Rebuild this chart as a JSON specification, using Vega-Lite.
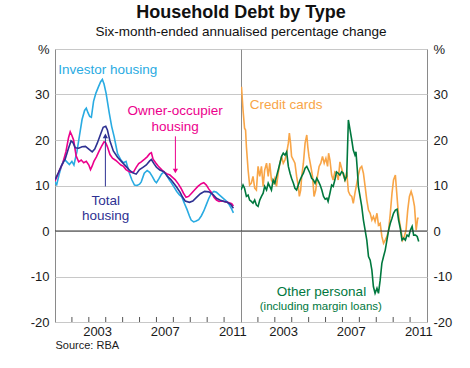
{
"$schema": "https://vega.github.io/schema/vega-lite/v6.json",
"padding": {"left": 29, "top": 4, "right": 5, "bottom": 5},
"bounds": "flush",
"config": {"font": "Liberation Sans", "view": {"stroke": "#8a8a8a", "strokeWidth": 1}, "axis": {"labelFont": "Liberation Sans", "labelColor": "#1a1a1a", "labelFontSize": 13, "titleFont": "Liberation Sans"}},
"title": {"text": "Household Debt by Type", "subtitle": "Six-month-ended annualised percentage change", "fontSize": 18, "fontWeight": "bold", "color": "#111111", "subtitleFontSize": 13.5, "subtitleColor": "#111111", "subtitleFont": "Liberation Sans", "subtitlePadding": 3, "anchor": "middle", "offset": 4},
"datasets": {
"housing": [
{"s":"Investor housing","t":2001.0,"v":10.7},{"s":"Investor housing","t":2001.1,"v":10.2},{"s":"Investor housing","t":2001.25,"v":12.5},{"s":"Investor housing","t":2001.4,"v":14.5},{"s":"Investor housing","t":2001.55,"v":15.8},{"s":"Investor housing","t":2001.7,"v":15.2},{"s":"Investor housing","t":2001.85,"v":14.6},{"s":"Investor housing","t":2002.0,"v":15.3},{"s":"Investor housing","t":2002.12,"v":14.5},{"s":"Investor housing","t":2002.3,"v":17.5},{"s":"Investor housing","t":2002.45,"v":21.0},{"s":"Investor housing","t":2002.6,"v":24.5},{"s":"Investor housing","t":2002.75,"v":26.5},{"s":"Investor housing","t":2002.85,"v":27.0},{"s":"Investor housing","t":2002.95,"v":26.0},{"s":"Investor housing","t":2003.05,"v":25.2},{"s":"Investor housing","t":2003.15,"v":25.0},{"s":"Investor housing","t":2003.28,"v":28.5},{"s":"Investor housing","t":2003.42,"v":30.3},{"s":"Investor housing","t":2003.55,"v":31.5},{"s":"Investor housing","t":2003.7,"v":32.8},{"s":"Investor housing","t":2003.8,"v":33.3},{"s":"Investor housing","t":2003.9,"v":32.3},{"s":"Investor housing","t":2004.02,"v":30.3},{"s":"Investor housing","t":2004.12,"v":28.0},{"s":"Investor housing","t":2004.21,"v":25.9},{"s":"Investor housing","t":2004.35,"v":23.0},{"s":"Investor housing","t":2004.5,"v":20.7},{"s":"Investor housing","t":2004.7,"v":17.0},{"s":"Investor housing","t":2004.9,"v":15.6},{"s":"Investor housing","t":2005.05,"v":15.0},{"s":"Investor housing","t":2005.2,"v":15.3},{"s":"Investor housing","t":2005.3,"v":14.0},{"s":"Investor housing","t":2005.4,"v":12.7},{"s":"Investor housing","t":2005.55,"v":11.2},{"s":"Investor housing","t":2005.7,"v":10.1},{"s":"Investor housing","t":2005.85,"v":10.0},{"s":"Investor housing","t":2006.0,"v":10.3},{"s":"Investor housing","t":2006.1,"v":10.8},{"s":"Investor housing","t":2006.28,"v":12.7},{"s":"Investor housing","t":2006.45,"v":13.3},{"s":"Investor housing","t":2006.6,"v":12.9},{"s":"Investor housing","t":2006.75,"v":12.0},{"s":"Investor housing","t":2006.9,"v":11.0},{"s":"Investor housing","t":2007.0,"v":10.6},{"s":"Investor housing","t":2007.15,"v":11.5},{"s":"Investor housing","t":2007.3,"v":12.5},{"s":"Investor housing","t":2007.45,"v":13.0},{"s":"Investor housing","t":2007.6,"v":12.3},{"s":"Investor housing","t":2007.75,"v":11.3},{"s":"Investor housing","t":2007.9,"v":10.5},{"s":"Investor housing","t":2008.05,"v":9.6},{"s":"Investor housing","t":2008.2,"v":8.7},{"s":"Investor housing","t":2008.35,"v":8.0},{"s":"Investor housing","t":2008.5,"v":7.5},{"s":"Investor housing","t":2008.65,"v":6.1},{"s":"Investor housing","t":2008.8,"v":4.8},{"s":"Investor housing","t":2008.95,"v":3.3},{"s":"Investor housing","t":2009.05,"v":2.4},{"s":"Investor housing","t":2009.2,"v":2.0},{"s":"Investor housing","t":2009.35,"v":2.2},{"s":"Investor housing","t":2009.5,"v":2.5},{"s":"Investor housing","t":2009.65,"v":3.3},{"s":"Investor housing","t":2009.8,"v":4.4},{"s":"Investor housing","t":2009.95,"v":5.8},{"s":"Investor housing","t":2010.1,"v":7.2},{"s":"Investor housing","t":2010.25,"v":8.3},{"s":"Investor housing","t":2010.4,"v":8.7},{"s":"Investor housing","t":2010.55,"v":8.5},{"s":"Investor housing","t":2010.7,"v":8.0},{"s":"Investor housing","t":2010.85,"v":7.5},{"s":"Investor housing","t":2011.0,"v":7.0},{"s":"Investor housing","t":2011.15,"v":6.5},{"s":"Investor housing","t":2011.3,"v":5.8},{"s":"Investor housing","t":2011.45,"v":4.8},{"s":"Investor housing","t":2011.55,"v":4.0},
{"s":"Owner-occupier housing","t":2001.0,"v":11.0},{"s":"Owner-occupier housing","t":2001.1,"v":11.8},{"s":"Owner-occupier housing","t":2001.25,"v":13.2},{"s":"Owner-occupier housing","t":2001.45,"v":14.8},{"s":"Owner-occupier housing","t":2001.65,"v":17.5},{"s":"Owner-occupier housing","t":2001.8,"v":20.5},{"s":"Owner-occupier housing","t":2001.9,"v":21.8},{"s":"Owner-occupier housing","t":2002.0,"v":21.0},{"s":"Owner-occupier housing","t":2002.1,"v":20.0},{"s":"Owner-occupier housing","t":2002.25,"v":16.5},{"s":"Owner-occupier housing","t":2002.4,"v":15.2},{"s":"Owner-occupier housing","t":2002.55,"v":15.6},{"s":"Owner-occupier housing","t":2002.7,"v":15.0},{"s":"Owner-occupier housing","t":2002.85,"v":15.3},{"s":"Owner-occupier housing","t":2003.0,"v":14.5},{"s":"Owner-occupier housing","t":2003.1,"v":13.5},{"s":"Owner-occupier housing","t":2003.2,"v":14.3},{"s":"Owner-occupier housing","t":2003.3,"v":15.3},{"s":"Owner-occupier housing","t":2003.45,"v":16.3},{"s":"Owner-occupier housing","t":2003.6,"v":17.5},{"s":"Owner-occupier housing","t":2003.75,"v":18.6},{"s":"Owner-occupier housing","t":2003.9,"v":19.6},{"s":"Owner-occupier housing","t":2004.0,"v":19.4},{"s":"Owner-occupier housing","t":2004.1,"v":18.5},{"s":"Owner-occupier housing","t":2004.25,"v":16.8},{"s":"Owner-occupier housing","t":2004.4,"v":16.0},{"s":"Owner-occupier housing","t":2004.6,"v":15.5},{"s":"Owner-occupier housing","t":2004.75,"v":15.0},{"s":"Owner-occupier housing","t":2004.9,"v":14.5},{"s":"Owner-occupier housing","t":2005.05,"v":14.2},{"s":"Owner-occupier housing","t":2005.2,"v":13.5},{"s":"Owner-occupier housing","t":2005.35,"v":13.1},{"s":"Owner-occupier housing","t":2005.5,"v":12.9},{"s":"Owner-occupier housing","t":2005.65,"v":13.0},{"s":"Owner-occupier housing","t":2005.8,"v":14.0},{"s":"Owner-occupier housing","t":2005.95,"v":14.8},{"s":"Owner-occupier housing","t":2006.1,"v":15.2},{"s":"Owner-occupier housing","t":2006.3,"v":15.8},{"s":"Owner-occupier housing","t":2006.45,"v":16.3},{"s":"Owner-occupier housing","t":2006.6,"v":17.0},{"s":"Owner-occupier housing","t":2006.7,"v":17.2},{"s":"Owner-occupier housing","t":2006.8,"v":15.8},{"s":"Owner-occupier housing","t":2006.95,"v":15.0},{"s":"Owner-occupier housing","t":2007.1,"v":14.3},{"s":"Owner-occupier housing","t":2007.3,"v":13.5},{"s":"Owner-occupier housing","t":2007.45,"v":13.0},{"s":"Owner-occupier housing","t":2007.6,"v":12.6},{"s":"Owner-occupier housing","t":2007.8,"v":12.3},{"s":"Owner-occupier housing","t":2007.95,"v":11.8},{"s":"Owner-occupier housing","t":2008.1,"v":11.3},{"s":"Owner-occupier housing","t":2008.3,"v":10.3},{"s":"Owner-occupier housing","t":2008.45,"v":9.4},{"s":"Owner-occupier housing","t":2008.6,"v":8.3},{"s":"Owner-occupier housing","t":2008.75,"v":7.4},{"s":"Owner-occupier housing","t":2008.9,"v":7.6},{"s":"Owner-occupier housing","t":2009.05,"v":8.2},{"s":"Owner-occupier housing","t":2009.25,"v":9.0},{"s":"Owner-occupier housing","t":2009.45,"v":9.8},{"s":"Owner-occupier housing","t":2009.65,"v":10.4},{"s":"Owner-occupier housing","t":2009.8,"v":10.6},{"s":"Owner-occupier housing","t":2009.95,"v":10.1},{"s":"Owner-occupier housing","t":2010.1,"v":9.2},{"s":"Owner-occupier housing","t":2010.25,"v":8.5},{"s":"Owner-occupier housing","t":2010.4,"v":7.4},{"s":"Owner-occupier housing","t":2010.55,"v":6.8},{"s":"Owner-occupier housing","t":2010.7,"v":6.5},{"s":"Owner-occupier housing","t":2010.9,"v":6.6},{"s":"Owner-occupier housing","t":2011.1,"v":6.4},{"s":"Owner-occupier housing","t":2011.3,"v":6.2},{"s":"Owner-occupier housing","t":2011.45,"v":6.0},{"s":"Owner-occupier housing","t":2011.55,"v":5.5},
{"s":"Total housing","t":2001.0,"v":11.3},{"s":"Total housing","t":2001.2,"v":12.8},{"s":"Total housing","t":2001.4,"v":14.5},{"s":"Total housing","t":2001.6,"v":15.8},{"s":"Total housing","t":2001.8,"v":18.2},{"s":"Total housing","t":2001.95,"v":19.8},{"s":"Total housing","t":2002.05,"v":19.5},{"s":"Total housing","t":2002.2,"v":18.3},{"s":"Total housing","t":2002.4,"v":18.2},{"s":"Total housing","t":2002.6,"v":18.5},{"s":"Total housing","t":2002.8,"v":18.6},{"s":"Total housing","t":2003.0,"v":18.0},{"s":"Total housing","t":2003.2,"v":17.4},{"s":"Total housing","t":2003.35,"v":18.0},{"s":"Total housing","t":2003.5,"v":19.3},{"s":"Total housing","t":2003.7,"v":21.3},{"s":"Total housing","t":2003.85,"v":22.8},{"s":"Total housing","t":2004.0,"v":23.0},{"s":"Total housing","t":2004.1,"v":22.2},{"s":"Total housing","t":2004.25,"v":19.8},{"s":"Total housing","t":2004.45,"v":17.6},{"s":"Total housing","t":2004.7,"v":16.2},{"s":"Total housing","t":2004.95,"v":15.2},{"s":"Total housing","t":2005.2,"v":14.2},{"s":"Total housing","t":2005.4,"v":13.4},{"s":"Total housing","t":2005.6,"v":12.8},{"s":"Total housing","t":2005.8,"v":12.5},{"s":"Total housing","t":2006.0,"v":13.5},{"s":"Total housing","t":2006.2,"v":14.0},{"s":"Total housing","t":2006.4,"v":14.5},{"s":"Total housing","t":2006.6,"v":15.4},{"s":"Total housing","t":2006.7,"v":15.7},{"s":"Total housing","t":2006.85,"v":14.8},{"s":"Total housing","t":2007.0,"v":14.0},{"s":"Total housing","t":2007.2,"v":13.4},{"s":"Total housing","t":2007.45,"v":13.0},{"s":"Total housing","t":2007.65,"v":12.0},{"s":"Total housing","t":2007.85,"v":11.3},{"s":"Total housing","t":2008.0,"v":10.6},{"s":"Total housing","t":2008.2,"v":9.6},{"s":"Total housing","t":2008.4,"v":8.5},{"s":"Total housing","t":2008.55,"v":7.4},{"s":"Total housing","t":2008.7,"v":6.6},{"s":"Total housing","t":2008.95,"v":6.3},{"s":"Total housing","t":2009.15,"v":6.6},{"s":"Total housing","t":2009.4,"v":7.5},{"s":"Total housing","t":2009.6,"v":8.2},{"s":"Total housing","t":2009.85,"v":8.7},{"s":"Total housing","t":2010.1,"v":8.6},{"s":"Total housing","t":2010.35,"v":8.0},{"s":"Total housing","t":2010.55,"v":7.2},{"s":"Total housing","t":2010.75,"v":6.8},{"s":"Total housing","t":2011.0,"v":6.5},{"s":"Total housing","t":2011.2,"v":6.3},{"s":"Total housing","t":2011.4,"v":5.8},{"s":"Total housing","t":2011.55,"v":5.0}
],
"personal": [
{"s":"Credit cards","t":2001.0,"v":31.0},{"s":"Credit cards","t":2001.03,"v":31.7},{"s":"Credit cards","t":2001.12,"v":26.6},{"s":"Credit cards","t":2001.21,"v":22.6},{"s":"Credit cards","t":2001.27,"v":22.2},{"s":"Credit cards","t":2001.32,"v":18.5},{"s":"Credit cards","t":2001.42,"v":13.4},{"s":"Credit cards","t":2001.51,"v":10.1},{"s":"Credit cards","t":2001.61,"v":10.5},{"s":"Credit cards","t":2001.71,"v":12.0},{"s":"Credit cards","t":2001.81,"v":9.4},{"s":"Credit cards","t":2001.91,"v":9.0},{"s":"Credit cards","t":2002.01,"v":14.2},{"s":"Credit cards","t":2002.11,"v":12.0},{"s":"Credit cards","t":2002.21,"v":14.2},{"s":"Credit cards","t":2002.31,"v":9.8},{"s":"Credit cards","t":2002.4,"v":13.4},{"s":"Credit cards","t":2002.51,"v":14.9},{"s":"Credit cards","t":2002.61,"v":12.0},{"s":"Credit cards","t":2002.7,"v":14.9},{"s":"Credit cards","t":2002.8,"v":11.2},{"s":"Credit cards","t":2002.9,"v":10.5},{"s":"Credit cards","t":2003.0,"v":11.6},{"s":"Credit cards","t":2003.1,"v":9.8},{"s":"Credit cards","t":2003.2,"v":12.7},{"s":"Credit cards","t":2003.3,"v":14.9},{"s":"Credit cards","t":2003.4,"v":16.4},{"s":"Credit cards","t":2003.5,"v":14.9},{"s":"Credit cards","t":2003.6,"v":15.6},{"s":"Credit cards","t":2003.7,"v":17.1},{"s":"Credit cards","t":2003.8,"v":19.3},{"s":"Credit cards","t":2003.86,"v":21.5},{"s":"Credit cards","t":2003.93,"v":19.3},{"s":"Credit cards","t":2003.99,"v":16.4},{"s":"Credit cards","t":2004.1,"v":15.6},{"s":"Credit cards","t":2004.19,"v":14.9},{"s":"Credit cards","t":2004.29,"v":12.0},{"s":"Credit cards","t":2004.39,"v":9.8},{"s":"Credit cards","t":2004.45,"v":7.6},{"s":"Credit cards","t":2004.53,"v":9.0},{"s":"Credit cards","t":2004.59,"v":12.0},{"s":"Credit cards","t":2004.69,"v":14.9},{"s":"Credit cards","t":2004.79,"v":19.3},{"s":"Credit cards","t":2004.89,"v":21.1},{"s":"Credit cards","t":2004.95,"v":18.5},{"s":"Credit cards","t":2005.02,"v":16.4},{"s":"Credit cards","t":2005.13,"v":14.2},{"s":"Credit cards","t":2005.23,"v":12.0},{"s":"Credit cards","t":2005.32,"v":7.6},{"s":"Credit cards","t":2005.42,"v":9.0},{"s":"Credit cards","t":2005.52,"v":12.0},{"s":"Credit cards","t":2005.62,"v":14.2},{"s":"Credit cards","t":2005.72,"v":14.9},{"s":"Credit cards","t":2005.82,"v":16.4},{"s":"Credit cards","t":2005.92,"v":14.9},{"s":"Credit cards","t":2006.02,"v":16.0},{"s":"Credit cards","t":2006.12,"v":14.2},{"s":"Credit cards","t":2006.18,"v":17.1},{"s":"Credit cards","t":2006.26,"v":15.6},{"s":"Credit cards","t":2006.36,"v":12.3},{"s":"Credit cards","t":2006.45,"v":11.2},{"s":"Credit cards","t":2006.55,"v":13.0},{"s":"Credit cards","t":2006.65,"v":12.7},{"s":"Credit cards","t":2006.75,"v":11.2},{"s":"Credit cards","t":2006.85,"v":15.2},{"s":"Credit cards","t":2006.95,"v":13.8},{"s":"Credit cards","t":2007.05,"v":12.3},{"s":"Credit cards","t":2007.15,"v":11.2},{"s":"Credit cards","t":2007.25,"v":13.0},{"s":"Credit cards","t":2007.35,"v":8.7},{"s":"Credit cards","t":2007.45,"v":7.9},{"s":"Credit cards","t":2007.55,"v":7.6},{"s":"Credit cards","t":2007.64,"v":6.1},{"s":"Credit cards","t":2007.74,"v":8.3},{"s":"Credit cards","t":2007.85,"v":10.5},{"s":"Credit cards","t":2007.94,"v":12.3},{"s":"Credit cards","t":2008.04,"v":13.8},{"s":"Credit cards","t":2008.14,"v":14.2},{"s":"Credit cards","t":2008.24,"v":12.7},{"s":"Credit cards","t":2008.34,"v":9.8},{"s":"Credit cards","t":2008.44,"v":6.8},{"s":"Credit cards","t":2008.54,"v":4.6},{"s":"Credit cards","t":2008.64,"v":3.9},{"s":"Credit cards","t":2008.74,"v":2.4},{"s":"Credit cards","t":2008.83,"v":3.2},{"s":"Credit cards","t":2008.93,"v":2.1},{"s":"Credit cards","t":2009.04,"v":3.9},{"s":"Credit cards","t":2009.13,"v":1.3},{"s":"Credit cards","t":2009.23,"v":1.7},{"s":"Credit cards","t":2009.33,"v":-1.2},{"s":"Credit cards","t":2009.43,"v":-2.7},{"s":"Credit cards","t":2009.53,"v":-2.0},{"s":"Credit cards","t":2009.63,"v":-1.2},{"s":"Credit cards","t":2009.73,"v":0.2},{"s":"Credit cards","t":2009.83,"v":3.9},{"s":"Credit cards","t":2009.93,"v":8.3},{"s":"Credit cards","t":2010.02,"v":11.2},{"s":"Credit cards","t":2010.13,"v":12.3},{"s":"Credit cards","t":2010.18,"v":9.8},{"s":"Credit cards","t":2010.29,"v":4.6},{"s":"Credit cards","t":2010.36,"v":2.4},{"s":"Credit cards","t":2010.46,"v":0.2},{"s":"Credit cards","t":2010.56,"v":-2.0},{"s":"Credit cards","t":2010.66,"v":-1.2},{"s":"Credit cards","t":2010.76,"v":0.2},{"s":"Credit cards","t":2010.86,"v":4.6},{"s":"Credit cards","t":2010.96,"v":7.6},{"s":"Credit cards","t":2011.06,"v":8.7},{"s":"Credit cards","t":2011.15,"v":7.6},{"s":"Credit cards","t":2011.26,"v":5.4},{"s":"Credit cards","t":2011.36,"v":0.2},{"s":"Credit cards","t":2011.45,"v":2.8},{"s":"Credit cards","t":2011.51,"v":2.8},
{"s":"Other personal","t":2001.0,"v":9.0},{"s":"Other personal","t":2001.12,"v":10.1},{"s":"Other personal","t":2001.21,"v":9.4},{"s":"Other personal","t":2001.32,"v":7.6},{"s":"Other personal","t":2001.42,"v":7.9},{"s":"Other personal","t":2001.51,"v":6.8},{"s":"Other personal","t":2001.61,"v":6.5},{"s":"Other personal","t":2001.71,"v":6.1},{"s":"Other personal","t":2001.81,"v":6.8},{"s":"Other personal","t":2001.91,"v":5.7},{"s":"Other personal","t":2002.01,"v":5.4},{"s":"Other personal","t":2002.11,"v":6.8},{"s":"Other personal","t":2002.21,"v":7.6},{"s":"Other personal","t":2002.31,"v":8.3},{"s":"Other personal","t":2002.4,"v":9.8},{"s":"Other personal","t":2002.51,"v":9.0},{"s":"Other personal","t":2002.61,"v":10.5},{"s":"Other personal","t":2002.7,"v":9.8},{"s":"Other personal","t":2002.8,"v":9.0},{"s":"Other personal","t":2002.9,"v":11.2},{"s":"Other personal","t":2003.0,"v":10.5},{"s":"Other personal","t":2003.1,"v":12.0},{"s":"Other personal","t":2003.2,"v":13.4},{"s":"Other personal","t":2003.3,"v":14.9},{"s":"Other personal","t":2003.4,"v":16.4},{"s":"Other personal","t":2003.5,"v":17.1},{"s":"Other personal","t":2003.6,"v":16.7},{"s":"Other personal","t":2003.7,"v":17.4},{"s":"Other personal","t":2003.8,"v":14.2},{"s":"Other personal","t":2003.9,"v":12.7},{"s":"Other personal","t":2003.99,"v":11.6},{"s":"Other personal","t":2004.1,"v":10.5},{"s":"Other personal","t":2004.19,"v":9.4},{"s":"Other personal","t":2004.29,"v":9.0},{"s":"Other personal","t":2004.39,"v":10.1},{"s":"Other personal","t":2004.49,"v":11.2},{"s":"Other personal","t":2004.59,"v":12.0},{"s":"Other personal","t":2004.69,"v":12.7},{"s":"Other personal","t":2004.79,"v":13.8},{"s":"Other personal","t":2004.89,"v":14.2},{"s":"Other personal","t":2004.99,"v":13.4},{"s":"Other personal","t":2005.08,"v":12.7},{"s":"Other personal","t":2005.18,"v":11.6},{"s":"Other personal","t":2005.28,"v":11.2},{"s":"Other personal","t":2005.38,"v":10.5},{"s":"Other personal","t":2005.48,"v":11.6},{"s":"Other personal","t":2005.58,"v":10.9},{"s":"Other personal","t":2005.68,"v":10.1},{"s":"Other personal","t":2005.78,"v":9.0},{"s":"Other personal","t":2005.88,"v":7.6},{"s":"Other personal","t":2005.98,"v":7.0},{"s":"Other personal","t":2006.08,"v":7.2},{"s":"Other personal","t":2006.15,"v":6.5},{"s":"Other personal","t":2006.26,"v":8.3},{"s":"Other personal","t":2006.36,"v":10.1},{"s":"Other personal","t":2006.45,"v":9.8},{"s":"Other personal","t":2006.55,"v":11.2},{"s":"Other personal","t":2006.65,"v":13.0},{"s":"Other personal","t":2006.75,"v":12.7},{"s":"Other personal","t":2006.85,"v":12.3},{"s":"Other personal","t":2006.95,"v":13.0},{"s":"Other personal","t":2007.05,"v":12.7},{"s":"Other personal","t":2007.15,"v":11.2},{"s":"Other personal","t":2007.25,"v":12.0},{"s":"Other personal","t":2007.35,"v":24.4},{"s":"Other personal","t":2007.45,"v":22.2},{"s":"Other personal","t":2007.55,"v":20.0},{"s":"Other personal","t":2007.64,"v":17.8},{"s":"Other personal","t":2007.74,"v":16.7},{"s":"Other personal","t":2007.8,"v":17.4},{"s":"Other personal","t":2007.88,"v":13.4},{"s":"Other personal","t":2007.94,"v":9.8},{"s":"Other personal","t":2008.04,"v":7.6},{"s":"Other personal","t":2008.14,"v":5.4},{"s":"Other personal","t":2008.24,"v":2.4},{"s":"Other personal","t":2008.34,"v":0.2},{"s":"Other personal","t":2008.44,"v":-2.0},{"s":"Other personal","t":2008.54,"v":-5.6},{"s":"Other personal","t":2008.64,"v":-6.4},{"s":"Other personal","t":2008.74,"v":-8.6},{"s":"Other personal","t":2008.83,"v":-12.2},{"s":"Other personal","t":2008.93,"v":-13.7},{"s":"Other personal","t":2009.04,"v":-12.6},{"s":"Other personal","t":2009.13,"v":-13.7},{"s":"Other personal","t":2009.23,"v":-10.8},{"s":"Other personal","t":2009.33,"v":-7.1},{"s":"Other personal","t":2009.43,"v":-5.6},{"s":"Other personal","t":2009.53,"v":-4.2},{"s":"Other personal","t":2009.63,"v":-2.0},{"s":"Other personal","t":2009.73,"v":0.2},{"s":"Other personal","t":2009.83,"v":1.7},{"s":"Other personal","t":2009.93,"v":2.8},{"s":"Other personal","t":2010.02,"v":3.9},{"s":"Other personal","t":2010.13,"v":4.6},{"s":"Other personal","t":2010.23,"v":4.8},{"s":"Other personal","t":2010.32,"v":2.4},{"s":"Other personal","t":2010.42,"v":0.6},{"s":"Other personal","t":2010.52,"v":-2.0},{"s":"Other personal","t":2010.62,"v":-1.6},{"s":"Other personal","t":2010.72,"v":-2.0},{"s":"Other personal","t":2010.82,"v":-0.9},{"s":"Other personal","t":2010.92,"v":-1.2},{"s":"Other personal","t":2011.02,"v":0.2},{"s":"Other personal","t":2011.12,"v":1.0},{"s":"Other personal","t":2011.21,"v":-0.9},{"s":"Other personal","t":2011.32,"v":-0.9},{"s":"Other personal","t":2011.42,"v":-1.2},{"s":"Other personal","t":2011.51,"v":-2.3}
],
"one": [{}],
"years": [{"yr":2002},{"yr":2003},{"yr":2004},{"yr":2005},{"yr":2006},{"yr":2007},{"yr":2008},{"yr":2009},{"yr":2010},{"yr":2011}]
},
"spacing": 0,
"resolve": {"scale": {"x": "independent", "y": "independent"}},
"hconcat": [
{
"width": 186, "height": 273,
"layer": [
{"data": {"name": "housing"}, "mark": {"type": "line", "strokeWidth": 1.6, "clip": true},
 "encoding": {
  "x": {"field": "t", "type": "quantitative", "scale": {"domain": [2001, 2012], "nice": false, "zero": false},
        "axis": {"values": [2003.49, 2007.49, 2011.49], "format": "d", "labelOverlap": false, "labelFlush": false, "domain": false, "grid": false, "ticks": false, "labelPadding": 3, "title": "Source: RBA", "titleAnchor": "start", "titleAlign": "left", "titleFontSize": 11, "titleFontWeight": "normal", "titleColor": "#1a1a1a", "titlePadding": 1}},
  "y": {"field": "v", "type": "quantitative", "scale": {"domain": [-20, 40], "nice": false},
        "axis": {"orient": "left", "values": [-20,-10,0,10,20,30,40], "labelExpr": "datum.value==40 ? '%' : ''+datum.value", "domain": false, "ticks": false, "grid": true, "gridColor": "#c8c8c8", "labelPadding": 6, "title": null}},
  "color": {"field": "s", "type": "nominal", "scale": {"domain": ["Investor housing","Owner-occupier housing","Total housing","Credit cards","Other personal"], "range": ["#29abe2","#ec008c","#2e3192","#f8a547","#00783e"]}, "legend": null}
 }},
{"data": {"name": "years"}, "mark": {"type": "rule", "color": "#555555", "strokeWidth": 1}, "encoding": {"x": {"field": "yr", "type": "quantitative"}, "y": {"datum": -20}, "y2": {"datum": -18.9}}},
{"data": {"name": "one"}, "mark": {"type": "rule", "color": "#333333", "strokeWidth": 1}, "encoding": {"y": {"datum": 0}}},
{"data": {"name": "one"}, "mark": {"type": "text", "color": "#29abe2", "fontSize": 13.5, "align": "center", "baseline": "middle"}, "encoding": {"x": {"datum": 2004.12}, "y": {"datum": 35.4}, "text": {"value": "Investor housing"}}},
{"data": {"name": "one"}, "mark": {"type": "text", "color": "#ec008c", "fontSize": 13.5, "align": "center", "baseline": "middle"}, "encoding": {"x": {"datum": 2008.1}, "y": {"datum": 26.3}, "text": {"value": "Owner-occupier"}}},
{"data": {"name": "one"}, "mark": {"type": "text", "color": "#ec008c", "fontSize": 13.5, "align": "center", "baseline": "middle"}, "encoding": {"x": {"datum": 2008.1}, "y": {"datum": 22.9}, "text": {"value": "housing"}}},
{"data": {"name": "one"}, "mark": {"type": "rule", "color": "#ec008c", "strokeWidth": 1}, "encoding": {"x": {"datum": 2008.12}, "y": {"datum": 20.8}, "y2": {"datum": 13.5}}},
{"data": {"name": "one"}, "mark": {"type": "point", "shape": "triangle-down", "filled": true, "size": 28, "color": "#ec008c", "opacity": 1}, "encoding": {"x": {"datum": 2008.12}, "y": {"datum": 13.2}}},
{"data": {"name": "one"}, "mark": {"type": "text", "color": "#2e3192", "fontSize": 13.5, "align": "center", "baseline": "middle"}, "encoding": {"x": {"datum": 2004.0}, "y": {"datum": 6.5}, "text": {"value": "Total"}}},
{"data": {"name": "one"}, "mark": {"type": "text", "color": "#2e3192", "fontSize": 13.5, "align": "center", "baseline": "middle"}, "encoding": {"x": {"datum": 2004.0}, "y": {"datum": 3.2}, "text": {"value": "housing"}}},
{"data": {"name": "one"}, "mark": {"type": "rule", "color": "#2e3192", "strokeWidth": 1}, "encoding": {"x": {"datum": 2003.98}, "y": {"datum": 9.8}, "y2": {"datum": 20.5}}},
{"data": {"name": "one"}, "mark": {"type": "point", "shape": "triangle-up", "filled": true, "size": 28, "color": "#2e3192", "opacity": 1}, "encoding": {"x": {"datum": 2003.98}, "y": {"datum": 20.9}}}
]
},
{
"width": 186, "height": 273,
"layer": [
{"data": {"name": "personal"}, "mark": {"type": "line", "strokeWidth": 1.6, "clip": true},
 "encoding": {
  "x": {"field": "t", "type": "quantitative", "scale": {"domain": [2001, 2012], "nice": false, "zero": false},
        "axis": {"values": [2003.49, 2007.49, 2011.49], "format": "d", "labelOverlap": false, "labelFlush": false, "domain": false, "grid": false, "ticks": false, "labelPadding": 3, "title": null}},
  "y": {"field": "v", "type": "quantitative", "scale": {"domain": [-20, 40], "nice": false},
        "axis": {"orient": "right", "values": [-20,-10,0,10,20,30,40], "labelExpr": "datum.value==40 ? '%' : ''+datum.value", "domain": false, "ticks": false, "grid": true, "gridColor": "#c8c8c8", "labelPadding": 6, "title": null}},
  "color": {"field": "s", "type": "nominal", "scale": {"domain": ["Investor housing","Owner-occupier housing","Total housing","Credit cards","Other personal"], "range": ["#29abe2","#ec008c","#2e3192","#f8a547","#00783e"]}, "legend": null}
 }},
{"data": {"name": "years"}, "mark": {"type": "rule", "color": "#555555", "strokeWidth": 1}, "encoding": {"x": {"field": "yr", "type": "quantitative"}, "y": {"datum": -20}, "y2": {"datum": -18.9}}},
{"data": {"name": "one"}, "mark": {"type": "rule", "color": "#333333", "strokeWidth": 1}, "encoding": {"y": {"datum": 0}}},
{"data": {"name": "one"}, "mark": {"type": "text", "color": "#f8a547", "fontSize": 13.5, "align": "center", "baseline": "middle"}, "encoding": {"x": {"datum": 2003.67}, "y": {"datum": 27.6}, "text": {"value": "Credit cards"}}},
{"data": {"name": "one"}, "mark": {"type": "text", "color": "#00783e", "fontSize": 13.5, "align": "center", "baseline": "middle"}, "encoding": {"x": {"datum": 2005.76}, "y": {"datum": -13.3}, "text": {"value": "Other personal"}}},
{"data": {"name": "one"}, "mark": {"type": "text", "color": "#00783e", "fontSize": 11.5, "align": "center", "baseline": "middle"}, "encoding": {"x": {"datum": 2005.72}, "y": {"datum": -16.8}, "text": {"value": "(including margin loans)"}}}
]
}
]
}
